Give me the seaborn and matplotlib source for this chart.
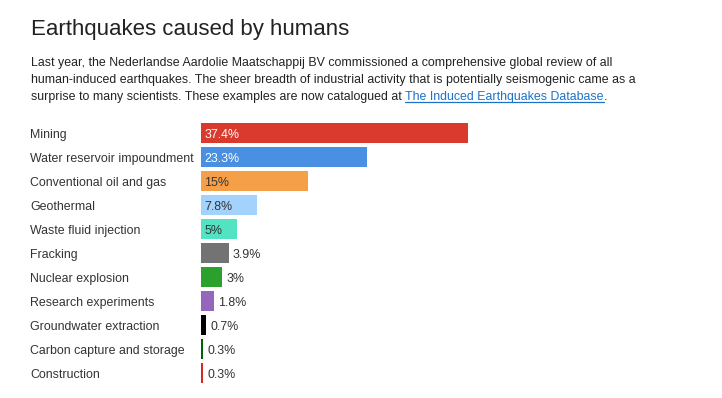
import matplotlib
matplotlib.use("Agg")
import matplotlib.pyplot as plt
import matplotlib.transforms as mtransforms
import pandas as pd
import seaborn as sns

CATEGORIES = [
    "Mining",
    "Water reservoir impoundment",
    "Conventional oil and gas",
    "Geothermal",
    "Waste fluid injection",
    "Fracking",
    "Nuclear explosion",
    "Research experiments",
    "Groundwater extraction",
    "Carbon capture and storage",
    "Construction",
]
SHARES = [37.4, 23.3, 15, 7.8, 5, 3.9, 3, 1.8, 0.7, 0.3, 0.3]
VALUE_LABELS = ["37.4%", "23.3%", "15%", "7.8%", "5%", "3.9%", "3%", "1.8%", "0.7%", "0.3%", "0.3%"]
COLORS = [
    "#da3a2e", "#4a90e2", "#f5a048", "#a3d2fd", "#52e3c3", "#737373",
    "#2ca02c", "#9467bd", "#000000", "#006400", "#d62728",
]

TITLE = "Earthquakes caused by humans"
INTRO_LINES = [
    "Last year, the Nederlandse Aardolie Maatschappij BV commissioned a comprehensive global review of all",
    "human-induced earthquakes. The sheer breadth of industrial activity that is potentially seismogenic came as a",
]
INTRO_LAST = "surprise to many scientists. These examples are now catalogued at "
LINK_TEXT = "The Induced Earthquakes Database"

W, H = 722, 398
sns.set_theme(style="white")
plt.rcParams["font.family"] = ["Liberation Sans", "DejaVu Sans"]

df = pd.DataFrame({"category": CATEGORIES, "share": SHARES})

fig = plt.figure(figsize=(W / 100, H / 100), dpi=100)
fig.patch.set_facecolor("white")

# axes placed in pixel units: bars start at x=201, rows 24 px apart
px_per_unit = 7.14
xmax = 70
top_px, bottom_px = 121, 385
ax = fig.add_axes([201 / W, (H - bottom_px) / H, xmax * px_per_unit / W, (bottom_px - top_px) / H])

sns.barplot(
    data=df, y="category", x="share", hue="category", palette=COLORS,
    orient="h", width=20 / 24, legend=False, ax=ax, saturation=1, linewidth=0,
)
ax.set_xlim(0, xmax)
ax.set_ylim(len(CATEGORIES) - 0.5, -0.5)
ax.set_axis_off()

text_color = "#333333"
fs = 8.9
dy = -1.2  # nudge text down a little to sit on the bar centre
label_trans = mtransforms.blended_transform_factory(fig.transFigure, ax.transData)
for i, (cat, val, lab) in enumerate(zip(CATEGORIES, SHARES, VALUE_LABELS)):
    ax.annotate(cat, (30 / W, i), xycoords=label_trans, xytext=(0, dy), textcoords="offset points",
                ha="left", va="center", fontsize=fs, color=text_color)
    if val >= 5:
        c = "white" if i < 2 else text_color
        ax.annotate(lab, (0, i), xytext=(2.3, dy), textcoords="offset points",
                    ha="left", va="center", fontsize=fs, color=c)
    else:
        ax.annotate(lab, (val, i), xytext=(3, dy), textcoords="offset points",
                    ha="left", va="center", fontsize=fs, color=text_color)

fig.text(31 / W, 1 - 29 / H, TITLE, fontsize=16, color="#222222", ha="left", va="center")
intro_fs = 8.95
for k, line in enumerate(INTRO_LINES):
    fig.text(31 / W, 1 - (63 + 17 * k) / H, line, fontsize=intro_fs, color="#222222",
             ha="left", va="center")

y_last = 1 - 97 / H
t1 = fig.text(31 / W, y_last, INTRO_LAST, fontsize=intro_fs, color="#222222", ha="left", va="center")
fig.canvas.draw()
renderer = fig.canvas.get_renderer()
bb = t1.get_window_extent(renderer)
t2 = fig.text(bb.x1 / W, y_last, LINK_TEXT, fontsize=intro_fs, color="#1a73c8", ha="left", va="center")
bb2 = t2.get_window_extent(renderer)
fig.add_artist(plt.Line2D([bb2.x0 / W, bb2.x1 / W], [(bb2.y0 + 1) / H] * 2,
                          transform=fig.transFigure, color="#1a73c8", lw=0.9))
fig.text(bb2.x1 / W, y_last, ".", fontsize=intro_fs, color="#222222", ha="left", va="center")

fig.savefig("out.png", dpi=100, facecolor="white")
